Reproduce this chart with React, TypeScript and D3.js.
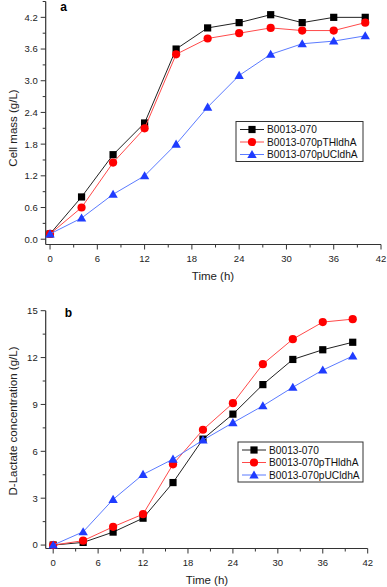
import React from 'react';
import * as d3 from 'd3';

const time = [0, 4, 8, 12, 16, 20, 24, 28, 32, 36, 40];
const seriesNames = ['B0013-070', 'B0013-070pTHldhA', 'B0013-070pUCldhA'];

// panel a: cell mass (g/L)
const massB0013 = [0.1, 0.8, 1.6, 2.2, 3.6, 4.0, 4.1, 4.25, 4.1, 4.2, 4.2];
const massPTH = [0.1, 0.6, 1.45, 2.1, 3.5, 3.8, 3.9, 4.0, 3.95, 3.95, 4.1];
const massPUC = [0.1, 0.4, 0.85, 1.2, 1.8, 2.5, 3.1, 3.5, 3.7, 3.75, 3.85];

// panel b: D-lactate (g/L)
const lacB0013 = [0, 0.17, 0.83, 1.72, 4.0, 6.78, 8.38, 10.27, 11.88, 12.5, 12.98];
const lacPTH = [0, 0.28, 1.17, 1.98, 5.17, 7.38, 9.08, 11.58, 13.18, 14.27, 14.46];
const lacPUC = [0, 0.85, 2.92, 4.52, 5.5, 6.72, 7.83, 8.91, 10.1, 11.2, 12.1];

const xTicks = [0, 6, 12, 18, 24, 30, 36, 42];
const xMinor = [3, 9, 15, 21, 27, 33, 39];
const massTicks = [0, 0.6, 1.2, 1.8, 2.4, 3.0, 3.6, 4.2];
const massMinor = [0.3, 0.9, 1.5, 2.1, 2.7, 3.3, 3.9, 4.5];
const lacTicks = [0, 3, 6, 9, 12, 15];
const lacMinor = [1.5, 4.5, 7.5, 10.5, 13.5];

const font = 'Liberation Sans, Arial, sans-serif';
const axisColor = '#333';
const markerColors = ['#000000', '#ff0000', '#1f3cff'];
const lineColors = ['#222222', '#ff4a4a', '#5b7bff'];

function Marker({ kind, x, y }: { kind: number; x: number; y: number }) {
  const c = markerColors[kind];
  if (kind === 0) return <rect x={x - 3.6} y={y - 3.6} width={7.2} height={7.2} fill={c} />;
  if (kind === 1) return <circle cx={x} cy={y} r={4.1} fill={c} />;
  const sym = d3.symbol().type(d3.symbolTriangle).size(38)();
  return <path d={sym || ''} transform={`translate(${x},${y + 0.8})`} fill={c} />;
}

function Panel(props: {
  series: number[][];
  xRange: [number, number];
  xMin: number;
  yDomain: [number, number];
  yRange: [number, number];
  yTicks: number[];
  yMinor: number[];
  yFmt: (v: number) => string;
  yTitle: string;
  yTitleY: number;
  xTitleX: number;
  letter: string;
  letterX: number;
  letterY: number;
  legend: { x: number; y: number; w: number; h: number };
}) {
  const x = d3.scaleLinear().domain([props.xMin, 42]).range(props.xRange);
  const y = d3.scaleLinear().domain(props.yDomain).range(props.yRange);
  const x0 = props.xRange[0];
  const yb = props.yRange[0];
  const line = d3
    .line<number>()
    .x((_, i) => x(time[i]))
    .y((d) => y(d));
  const lg = props.legend;
  return (
    <g>
      {/* axes */}
      <line x1={x0} x2={x0} y1={props.yRange[1]} y2={yb} stroke={axisColor} strokeWidth={1.2} />
      <line x1={x0} x2={props.xRange[1]} y1={yb} y2={yb} stroke={axisColor} strokeWidth={1.2} />
      {xTicks.map((t) => (
        <g key={'xt' + t}>
          <line x1={x(t)} x2={x(t)} y1={yb} y2={yb + 5} stroke={axisColor} />
          <text x={x(t)} y={yb + 17} fontSize={9.5} textAnchor="middle" fill="#222">
            {t}
          </text>
        </g>
      ))}
      {xMinor.map((t) => (
        <line key={'xm' + t} x1={x(t)} x2={x(t)} y1={yb} y2={yb + 3} stroke={axisColor} />
      ))}
      {props.yTicks.map((t) => (
        <g key={'yt' + t}>
          <line x1={x0 - 5} x2={x0} y1={y(t)} y2={y(t)} stroke={axisColor} />
          <text x={x0 - 8} y={y(t) + 3.4} fontSize={9.5} textAnchor="end" fill="#222">
            {props.yFmt(t)}
          </text>
        </g>
      ))}
      {props.yMinor.map((t) => (
        <line key={'ym' + t} x1={x0 - 3} x2={x0} y1={y(t)} y2={y(t)} stroke={axisColor} />
      ))}
      <text x={props.xTitleX} y={yb + 35} fontSize={11.5} textAnchor="middle" fill="#222">
        Time (h)
      </text>
      <text
        transform={`translate(16.5,${props.yTitleY}) rotate(-90)`}
        fontSize={11.5}
        textAnchor="middle"
        fill="#222"
      >
        {props.yTitle}
      </text>
      <text x={props.letterX} y={props.letterY} fontSize={12} fontWeight="bold" textAnchor="middle">
        {props.letter}
      </text>

      {/* series */}
      {props.series.map((s, k) => (
        <g key={'s' + k}>
          <path d={line(s) || ''} fill="none" stroke={lineColors[k]} strokeWidth={1} />
          {s.map((v, i) => (
            <Marker key={i} kind={k} x={x(time[i])} y={y(v)} />
          ))}
        </g>
      ))}

      {/* legend */}
      <rect x={lg.x} y={lg.y} width={lg.w} height={lg.h} fill="white" stroke="#333" strokeWidth={1} />
      {seriesNames.map((n, k) => {
        const ry = lg.y + 8 + k * 12.5;
        return (
          <g key={n}>
            <line x1={lg.x + 4} x2={lg.x + 28} y1={ry} y2={ry} stroke={lineColors[k]} />
            <Marker kind={k} x={lg.x + 16} y={ry} />
            <text x={lg.x + 31} y={ry + 3.6} fontSize={10.2} fill="#111">
              {n}
            </text>
          </g>
        );
      })}
    </g>
  );
}

export default function App() {
  return (
    <svg
      width={387}
      height={587}
      style={{ position: 'absolute', left: 0, top: 0, fontFamily: font, background: 'white' }}
    >
      <Panel
        series={[massB0013, massPTH, massPUC]}
        xRange={[45.7, 381]}
        xMin={-0.55}
        yDomain={[-0.1, 4.5]}
        yRange={[244.5, 1.5]}
        yTicks={massTicks}
        yMinor={massMinor}
        yFmt={(v) => v.toFixed(1)}
        yTitle="Cell mass (g/L)"
        yTitleY={128}
        xTitleX={213}
        letter="a"
        letterX={63.5}
        letterY={11}
        legend={{ x: 236, y: 121.5, w: 127, h: 40 }}
      />
      <Panel
        series={[lacB0013, lacPTH, lacPUC]}
        xRange={[45.7, 367.7]}
        xMin={-1}
        yDomain={[-0.22, 15]}
        yRange={[548.5, 310.7]}
        yTicks={lacTicks}
        yMinor={lacMinor}
        yFmt={(v) => String(v)}
        yTitle="D-Lactate concentration (g/L)"
        yTitleY={421}
        xTitleX={207}
        letter="b"
        letterX={68.5}
        letterY={317}
        legend={{ x: 238, y: 442, w: 125, h: 40 }}
      />
    </svg>
  );
}
